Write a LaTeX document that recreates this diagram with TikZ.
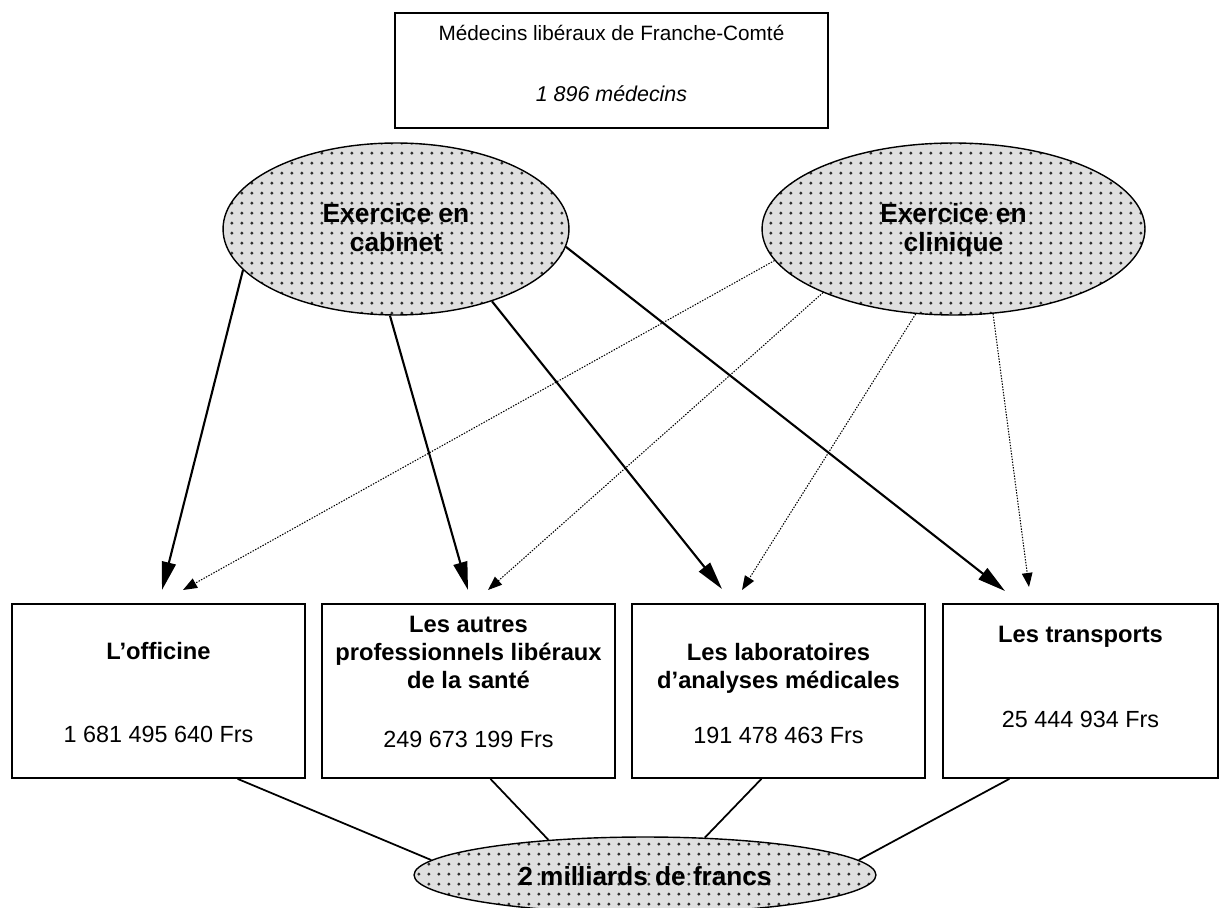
\documentclass[tikz,border=0pt]{standalone}
\usepackage{fontspec}
\setmainfont{Liberation Sans}
\usetikzlibrary{arrows.meta,shapes.geometric,patterns.meta}

\tikzdeclarepattern{
	name=speckle,
	type=uncolored,
	bounding box={(0pt,0pt) and (5.9pt,5.9pt)},
	tile size={(5.9pt,5.9pt)},
	code={\pgfpathcircle{\pgfpoint{2.95pt}{2.95pt}}{1pt}\pgfusepath{fill}}
}

\begin{document}
\begin{tikzpicture}[x=0.02cm, y=-0.02cm,
		frame/.style={draw, line width=1pt, inner sep=0pt},
		box/.style={frame, minimum width=5.86cm, minimum height=3.48cm},
		blob/.style={ellipse, draw, line width=0.8pt, inner sep=0pt, preaction={fill=gray!25}, pattern=speckle, pattern color=gray!35!black},
		main/.style={-{Triangle[length=16pt,width=8pt]}, line width=1.2pt},
		side/.style={-{Triangle[length=8pt,width=6pt]}, line width=0.6pt, dash pattern=on 0.8pt off 0.8pt},
		link/.style={line width=1pt},
		title/.style={anchor=base, align=center, font=\bfseries\fontsize{13.5}{15.9}\selectfont},
		amount/.style={anchor=base, font=\fontsize{13.3}{15}\selectfont}]
		\useasboundingbox (0,0) rectangle (1226,908);

		\node[frame, minimum width=8.66cm, minimum height=2.3cm] (head) at (611.5,70.5) {};
		\node[anchor=base, font=\fontsize{11.8}{15}\selectfont] (headname) at (611.5,41) {Médecins libéraux de Franche-Comté};
		\node[anchor=base, font=\itshape\fontsize{12.2}{15}\selectfont] (headcount) at (611.5,102) {1 896 médecins};

		\node[blob, minimum width=6.92cm, minimum height=3.44cm] (cab) at (396,229) {};
		\node[title, font=\bfseries\fontsize{15}{17}\selectfont] (cabname) at (396,252) {Exercice en\\cabinet};
		\node[blob, minimum width=7.66cm, minimum height=3.44cm] (cli) at (953.5,229) {};
		\node[title, font=\bfseries\fontsize{15}{17}\selectfont] (cliname) at (953.5,252) {Exercice en\\clinique};

		\node[box] (off) at (158.5,691) {};
		\node[box] (aut) at (468.5,691) {};
		\node[box] (lab) at (778.5,691) {};
		\node[box, minimum width=5.5cm] (tra) at (1080.5,691) {};

		\node[title] (offname) at (158.5,659) {L’officine};
		\node[title] (autname) at (468.5,688) {Les autres\\professionnels libéraux\\de la santé};
		\node[title] (labname) at (778.5,688) {Les laboratoires\\d’analyses médicales};
		\node[title] (traname) at (1080.5,642) {Les transports};

		\node[amount] (offsum) at (158.5,742) {1 681 495 640 Frs};
		\node[amount] (autsum) at (468.5,747) {249 673 199 Frs};
		\node[amount] (labsum) at (778.5,743) {191 478 463 Frs};
		\node[amount] (trasum) at (1080.5,727) {25 444 934 Frs};

		\node[blob, minimum width=9.24cm, minimum height=1.52cm] (total) at (645,875) {};
		\node[anchor=base, font=\bfseries\fontsize{14.9}{17}\selectfont] (totalname) at (645,885) {2 milliards de francs};

		\coordinate (off-cab) at (162,590);
		\coordinate (off-cli) at (183,590);
		\coordinate (aut-cab) at (468,590);
		\coordinate (aut-cli) at (488,590);
		\coordinate (lab-cab) at (722,589);
		\coordinate (lab-cli) at (742,590);
		\coordinate (tra-cab) at (1005,591);
		\coordinate (tra-cli) at (1029,587);

		\draw[main] (cab.195) -- (off-cab);
		\draw[main] (cab.266) -- (aut-cab);
		\draw[main] (cab.323) -- (lab-cab);
		\draw[main] (cab.354) -- (tra-cab);

		\draw[side] (cli.190) -- (off-cli);
		\draw[side] (cli.206) -- (aut-cli);
		\draw[side] (cli.246) -- (lab-cli);
		\draw[side] (cli.295) -- (tra-cli);

		\draw[link] (off.312) -- (total.176);
		\draw[link] (aut.284) -- (total.160);
		\draw[link] (lab.259) -- (total.32);
		\draw[link] (tra.231) -- (total.4);

	\end{tikzpicture}
\end{document}
